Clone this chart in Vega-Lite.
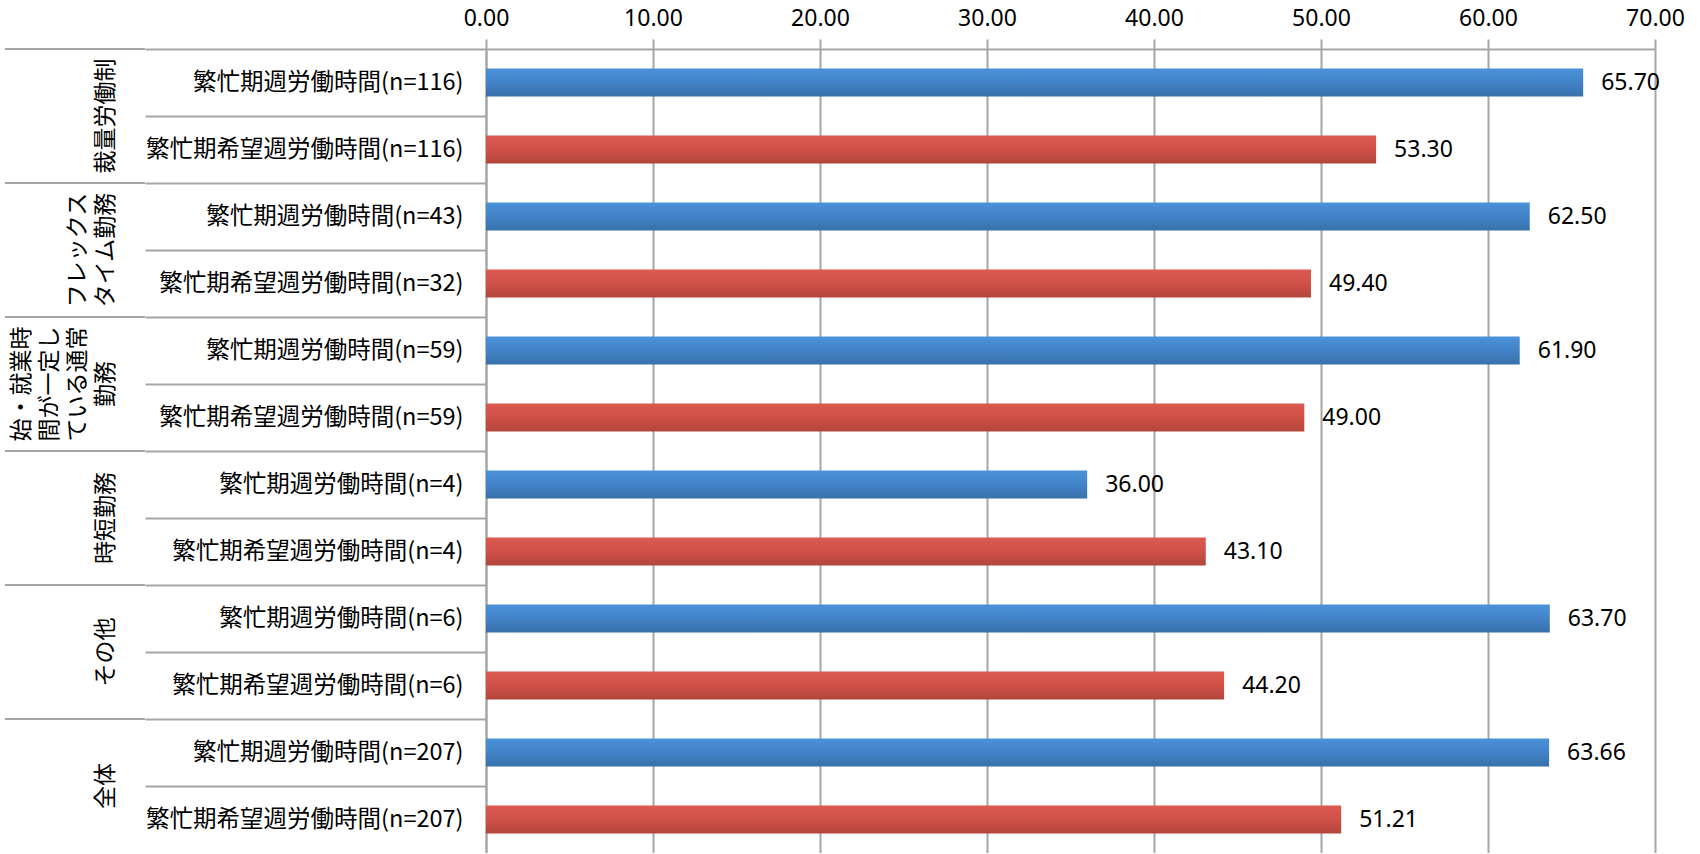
{
  "$schema": "https://vega.github.io/schema/vega-lite/v6.json",
  "padding": {"left": 4, "top": 7, "right": 0, "bottom": 0},
  "background": "white",
  "data": {"values": [
    {"group": "裁量労働制", "kind": "actual", "row": "繁忙期週労働時間(n=116)", "value": 65.70},
    {"group": "裁量労働制", "kind": "wish", "row": "繁忙期希望週労働時間(n=116)", "value": 53.30},
    {"group": "フレックス\nタイム勤務", "kind": "actual", "row": "繁忙期週労働時間(n=43)", "value": 62.50},
    {"group": "フレックス\nタイム勤務", "kind": "wish", "row": "繁忙期希望週労働時間(n=32)", "value": 49.40},
    {"group": "始・就業時\n間が一定し\nている通常\n勤務", "kind": "actual", "row": "繁忙期週労働時間(n=59)", "value": 61.90},
    {"group": "始・就業時\n間が一定し\nている通常\n勤務", "kind": "wish", "row": "繁忙期希望週労働時間(n=59)", "value": 49.00},
    {"group": "時短勤務", "kind": "actual", "row": "繁忙期週労働時間(n=4)", "value": 36.00},
    {"group": "時短勤務", "kind": "wish", "row": "繁忙期希望週労働時間(n=4)", "value": 43.10},
    {"group": "その他", "kind": "actual", "row": "繁忙期週労働時間(n=6)", "value": 63.70},
    {"group": "その他", "kind": "wish", "row": "繁忙期希望週労働時間(n=6)", "value": 44.20},
    {"group": "全体", "kind": "actual", "row": "繁忙期週労働時間(n=207)", "value": 63.66},
    {"group": "全体", "kind": "wish", "row": "繁忙期希望週労働時間(n=207)", "value": 51.21}
  ]},
  "spacing": 341,
  "bounds": "flush",
  "resolve": {"scale": {"y": "shared", "x": "independent"}},
  "hconcat": [
    {
      "width": 140,
      "height": 804,
      "layer": [
        {
          "mark": {"type": "rule", "color": "#a6a6a6", "strokeWidth": 2},
          "encoding": {
            "y": {"field": "row", "type": "nominal", "sort": null, "bandPosition": 0, "axis": null,
                  "scale": {"type": "band", "paddingInner": 0, "paddingOuter": 0}},
            "opacity": {"condition": {"test": "datum.kind === 'actual'", "value": 1}, "value": 0}
          }
        },
        {
          "mark": {"type": "text", "angle": 270, "align": "center", "baseline": "bottom", "lineBreak": "\n",
                   "fontSize": 23, "lineHeight": 28,
                   "dy": {"expr": "43 - 28 * (length(split(datum.group, '\\n')) - 1)"},
                   "color": "#000000", "font": "Noto Sans CJK JP"},
          "encoding": {
            "y": {"field": "row", "type": "nominal", "sort": null, "bandPosition": 1, "axis": null,
                  "scale": {"type": "band", "paddingInner": 0, "paddingOuter": 0}},
            "text": {"condition": {"test": "datum.kind === 'actual'", "field": "group", "type": "nominal"}, "value": ""}
          }
        }
      ]
    },
    {
      "width": 1169,
      "height": 804,
      "encoding": {
        "y": {"field": "row", "type": "nominal", "sort": null,
              "scale": {"type": "band", "paddingInner": 0, "paddingOuter": 0},
              "axis": {"title": null, "orient": "left", "bandPosition": 0, "domain": true, "domainColor": "#a6a6a6", "domainWidth": 2,
                       "ticks": true, "tickSize": 341, "tickColor": "#a6a6a6", "tickWidth": 2,
                       "labelPadding": -318, "labelAlign": "right", "labelBaseline": "middle", "labelLimit": 0,
                       "labelFont": "Noto Sans CJK JP", "labelFontSize": 23.5, "labelColor": "#000000", "grid": false}},
        "x": {"field": "value", "type": "quantitative",
              "scale": {"domain": [0, 70], "nice": false, "zero": true},
              "axis": {"title": null, "orient": "top", "values": [0, 10, 20, 30, 40, 50, 60, 70], "format": ".2f",
                       "grid": true, "gridColor": "#a6a6a6", "gridWidth": 2,
                       "domain": true, "domainColor": "#a6a6a6", "domainWidth": 2,
                       "ticks": true, "tickSize": 10, "tickColor": "#a6a6a6", "tickWidth": 2, "labelFlush": false,
                       "labelPadding": 9, "labelFont": "Noto Sans", "labelFontSize": 23, "labelColor": "#000000"}}
      },
      "layer": [
        {
          "mark": {"type": "bar", "height": {"band": 0.42}},
          "encoding": {
            "color": {
              "condition": {"test": "datum.kind === 'actual'",
                "value": {"gradient": "linear", "x1": 0, "y1": 0, "x2": 0, "y2": 1,
                          "stops": [{"offset": 0, "color": "#4b92d9"}, {"offset": 0.5, "color": "#4283c8"}, {"offset": 1, "color": "#3870a9"}]}},
              "value": {"gradient": "linear", "x1": 0, "y1": 0, "x2": 0, "y2": 1,
                        "stops": [{"offset": 0, "color": "#dc5a50"}, {"offset": 0.5, "color": "#cf5047"}, {"offset": 1, "color": "#b2453c"}]}
            }
          }
        },
        {
          "mark": {"type": "text", "align": "left", "baseline": "middle", "dx": 18, "fontSize": 23, "font": "Noto Sans", "color": "#000000"},
          "encoding": {
            "text": {"field": "value", "type": "quantitative", "format": ".2f"}
          }
        }
      ]
    }
  ],
  "config": {"view": {"stroke": null}}
}
